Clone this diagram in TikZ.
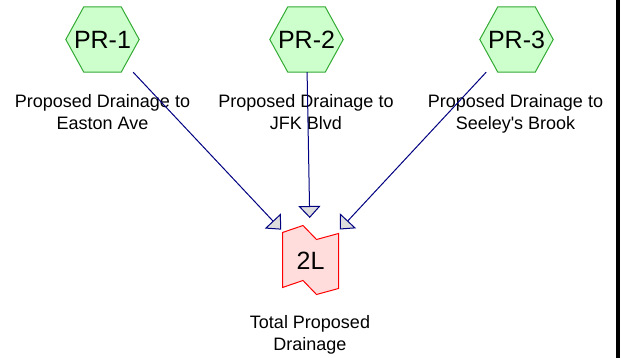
\documentclass[tikz,border=0pt]{standalone}
\usepackage{fontspec}
\setmainfont{Liberation Sans}[Ligatures=TeXOff]
\usetikzlibrary{arrows.meta,calc,backgrounds}
\definecolor{hexfill}{HTML}{CCFFCC}
\definecolor{hexline}{HTML}{33AA33}
\definecolor{tapefill}{HTML}{FFDDDD}
\definecolor{tapeline}{HTML}{FF0000}
\definecolor{flowline}{HTML}{000080}
\definecolor{headfill}{HTML}{DDDDDD}
\begin{document}
\begin{tikzpicture}[x=1pt,y=-1pt,
  hexnode/.style={minimum width=73pt,minimum height=65pt,inner sep=0pt,
    font=\fontsize{25}{29}\selectfont},
  hexshape/.style={draw=hexline,fill=hexfill,line width=1pt,line join=miter},
  tapenode/.style={inner sep=0pt,font=\fontsize{25}{29}\selectfont},
  tapeshape/.style={draw=tapeline,fill=tapefill,line width=1pt},
  caption/.style={align=center,font=\fontsize{18}{22}\selectfont,anchor=base,inner sep=0pt},
  flow/.style={draw=flowline,line width=1pt,
    -{Triangle[length=12pt,width=22pt,fill=headfill]}}
]
\useasboundingbox (0,0) rectangle (623,358);

% source catchments
\node[hexnode] (p1) at (102.5,39.5) {PR-1};
\node[hexnode] (p2) at (306.5,39.5) {PR-2};
\node[hexnode] (p3) at (516.5,39.5) {PR-3};

% combined outlet
\node[tapenode] (l2) at (310.5,261) {2L};

\begin{scope}[on background layer]
  \foreach \n in {p1,p2,p3}
    \path[hexshape] (\n.west) -- ([xshift=18pt]\n.north west)
      -- ([xshift=-18pt]\n.north east) -- (\n.east)
      -- ([xshift=-18pt]\n.south east) -- ([xshift=18pt]\n.south west) -- cycle;
  \path[tapeshape] ($(l2)+(-28,-28.5)$) -- ($(l2)+(-7.5,-35.5)$)
    -- ($(l2)+(6,-21.5)$) -- ($(l2)+(28,-27.5)$) -- ($(l2)+(28,27.5)$)
    -- ($(l2)+(6,33.5)$) -- ($(l2)+(-7.5,19.5)$) -- ($(l2)+(-28,26.5)$) -- cycle;
\end{scope}

% captions (base anchor sits on the last line)
\node[caption] (c1) at (102.5,130) {Proposed Drainage to\\Easton Ave};
\node[caption] (c2) at (306,130) {Proposed Drainage to\\JFK Blvd};
\node[caption] (c3) at (515.5,130) {Proposed Drainage to\\Seeley's Brook};
\node[caption] (c4) at (310,350.5) {Total Proposed\\Drainage};

% flows
\draw[flow] (p1) -- ($(l2)!43pt!(p1)$);
\draw[flow] (p2) -- ($(l2)!43pt!(p2)$);
\draw[flow] (p3) -- ($(l2)!43pt!(p3)$);

% frame edge
\fill[black] (616,0) rectangle (620,358);
\end{tikzpicture}
\end{document}
